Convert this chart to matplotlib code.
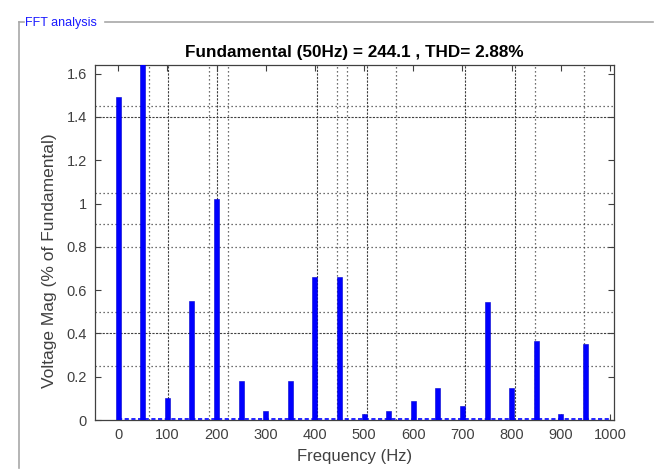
import matplotlib
matplotlib.use("Agg")
import matplotlib.pyplot as plt
from matplotlib.lines import Line2D

plt.rcParams['font.family'] = ['Liberation Sans', 'DejaVu Sans']

# Harmonic spectrum, % of fundamental
freqs = [0, 50, 100, 150, 200, 250, 300, 350, 400, 450,
         500, 550, 600, 650, 700, 750, 800, 850, 900, 950]
mags = [1.49, 100.0, 0.10, 0.55, 1.02, 0.18, 0.04, 0.18, 0.66, 0.66,
        0.03, 0.04, 0.09, 0.15, 0.065, 0.545, 0.15, 0.365, 0.03, 0.35]
baseline_level = 0.004

xticks = list(range(0, 1001, 100))
yticks = [0, 0.2, 0.4, 0.6, 0.8, 1.0, 1.2, 1.4, 1.6]
ytick_labels = ['0', '0.2', '0.4', '0.6', '0.8', '1', '1.2', '1.4', '1.6']

# Grid lines (dense dashed and sparse dotted)
vgrid_dash = [101, 202, 404, 505, 705, 806]
vgrid_dot = [62, 184, 224, 445, 465, 565, 848, 948]
hgrid_dash = [1.40, 0.40]
hgrid_dot = [1.45, 1.05, 0.905, 0.80, 0.50, 0.25]

title = "Fundamental (50Hz) = 244.1 , THD= 2.88%"
panel_title = "FFT analysis"

fig = plt.figure(figsize=(6.7, 4.7), dpi=100)
fig.patch.set_facecolor('white')
W, H = 670, 470

def fx(px):
    return px / W

def fy(py):
    return 1 - py / H

ax = fig.add_axes([fx(95), fy(420), fx(614) - fx(95), fy(65) - fy(420)])

gcol = '#404040'
for x in vgrid_dash:
    ax.axvline(x, color=gcol, lw=0.8, ls=(0, (2, 1.2)), zorder=1)
for x in vgrid_dot:
    ax.axvline(x, color=gcol, lw=0.9, ls=(0, (1, 2.2)), zorder=1)
for y in hgrid_dash:
    ax.axhline(y, color=gcol, lw=0.8, ls=(0, (2, 1.2)), zorder=1)
for y in hgrid_dot:
    ax.axhline(y, color=gcol, lw=0.9, ls=(0, (1, 2.2)), zorder=1)

ax.bar(freqs, mags, width=10, color='#0000ff', edgecolor='#0000cc',
       linewidth=0.4, zorder=3)
ax.plot([0, 1000], [baseline_level, baseline_level], color='#0000ff',
        lw=1.2, ls=(0, (2.5, 1.5)), zorder=3)

ax.set_xlim(-47, 1008)
ax.set_ylim(0, 1.64)
ax.set_xticks(xticks)
ax.set_yticks(yticks)
ax.set_yticklabels(ytick_labels)
ax.tick_params(direction='in', length=4, width=0.8, top=True, right=True,
               labelsize=10.5, labelcolor='#404040', color='#404040', pad=6)
for s in ax.spines.values():
    s.set_color('#404040')
    s.set_linewidth(0.9)

ax.set_title(title, fontsize=12.3, fontweight='bold', pad=6)
ax.set_xlabel("Frequency (Hz)", fontsize=12, color='#404040', labelpad=5)
ax.set_ylabel("Voltage Mag (% of Fundamental)", fontsize=12.5,
              color='#404040')
ax.yaxis.set_label_coords(-0.073, 0.45)

# Panel frame
fcol = '#a8a8a8'
fig.add_artist(Line2D([fx(18.5), fx(18.5)], [fy(22), fy(468)], color=fcol, lw=1.2))
fig.add_artist(Line2D([fx(18.5), fx(24)], [fy(22), fy(22)], color=fcol, lw=1.2))
fig.add_artist(Line2D([fx(105), fx(653)], [fy(22), fy(22)], color=fcol, lw=1.2))
fig.text(fx(25), fy(23), panel_title, color='#1a1aff', fontsize=9,
         ha='left', va='center')

fig.savefig("out.png", dpi=100)
